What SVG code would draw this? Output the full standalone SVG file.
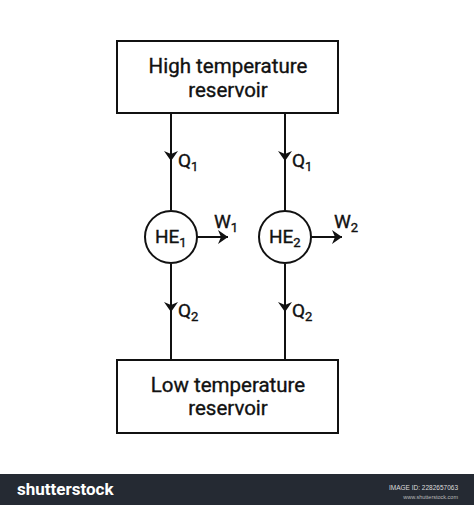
<svg xmlns="http://www.w3.org/2000/svg" width="474" height="505" viewBox="0 0 474 505">
<style>
.box{fill:#fff;stroke:#111;stroke-width:2}
.ln{fill:none;stroke:#111;stroke-width:2}
.t{font-family:Roboto,"Liberation Sans",sans-serif;font-size:20.5px;fill:#111;text-anchor:middle;stroke:#111;stroke-width:0.35}
.l{font-family:Roboto,"Liberation Sans",sans-serif;font-size:19px;fill:#111;stroke:#111;stroke-width:0.35}
.s{font-size:13px}
</style>
<defs>
<marker id="ah" viewBox="0 0 10 14" refX="10" refY="7" markerWidth="10" markerHeight="14" markerUnits="userSpaceOnUse" orient="auto">
<path d="M0,0 L10,7 L0,14 L3,7 z" fill="#111"/>
</marker>
</defs>
<rect width="474" height="505" fill="#fff"/>
<g id="connectors">
<line class="ln" x1="171" y1="113" x2="171" y2="210"/>
<line class="ln" x1="171" y1="113" x2="171" y2="161" marker-end="url(#ah)"/>
<line class="ln" x1="285" y1="113" x2="285" y2="211"/>
<line class="ln" x1="285" y1="113" x2="285" y2="161" marker-end="url(#ah)"/>
<line class="ln" x1="171" y1="264" x2="171" y2="360"/>
<line class="ln" x1="171" y1="264" x2="171" y2="312" marker-end="url(#ah)"/>
<line class="ln" x1="285" y1="264" x2="285" y2="360"/>
<line class="ln" x1="285" y1="264" x2="285" y2="312" marker-end="url(#ah)"/>
<line class="ln" x1="197" y1="237" x2="228" y2="237" marker-end="url(#ah)"/>
<line class="ln" x1="311" y1="237" x2="342" y2="237" marker-end="url(#ah)"/>
<text class="l" x="178" y="167">Q<tspan class="s" dy="4">1</tspan></text>
<text class="l" x="292" y="167">Q<tspan class="s" dy="4">1</tspan></text>
<text class="l" x="178" y="317">Q<tspan class="s" dy="4">2</tspan></text>
<text class="l" x="292" y="317">Q<tspan class="s" dy="4">2</tspan></text>
<text class="l" x="214" y="228">W<tspan class="s" dy="4">1</tspan></text>
<text class="l" x="334" y="228">W<tspan class="s" dy="4">2</tspan></text>
</g>
<g id="high">
<rect class="box" x="117" y="41" width="221" height="72"/>
<text class="t" x="228" y="73">High temperature</text>
<text class="t" x="228" y="97">reservoir</text>
</g>
<g id="low">
<rect class="box" x="117" y="360" width="221" height="73"/>
<text class="t" x="228" y="392">Low temperature</text>
<text class="t" x="228" y="415">reservoir</text>
</g>
<g id="he1">
<circle class="box" cx="171" cy="237" r="26"/>
<text class="l" x="155" y="243">HE<tspan class="s" dy="4">1</tspan></text>
</g>
<g id="he2">
<circle class="box" cx="285" cy="237" r="26"/>
<text class="l" x="269" y="243">HE<tspan class="s" dy="4">2</tspan></text>
</g>
<g id="footer">
<rect x="0" y="474" width="474" height="31" fill="#252a33"/>
<text x="17" y="495" font-family="Roboto,'Liberation Sans',sans-serif" font-size="17" font-weight="bold" fill="#fff">shutterstock</text>
<text x="458" y="490" font-family="'Liberation Sans',sans-serif" font-size="6.5" fill="#ddd" text-anchor="end">IMAGE ID: 2282657063</text>
<text x="458" y="499" font-family="'Liberation Sans',sans-serif" font-size="5.5" fill="#bbb" text-anchor="end">www.shutterstock.com</text>
</g>
</svg>
